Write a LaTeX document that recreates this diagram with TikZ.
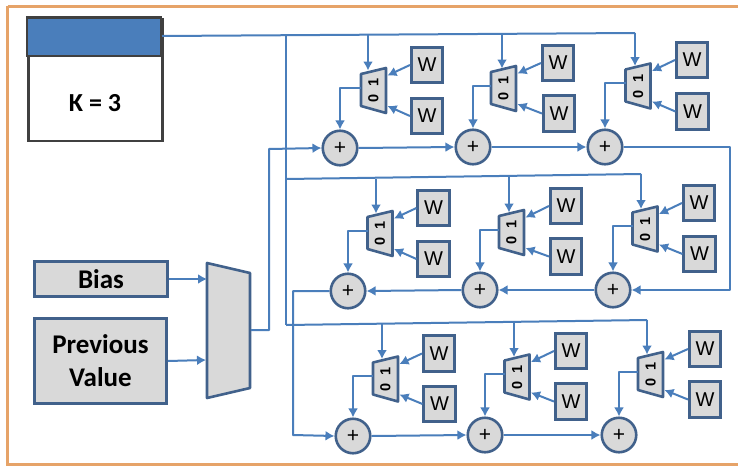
\documentclass[tikz,border=0pt]{standalone}
\usepackage{fontspec}
\setmainfont{Carlito}
\newfontfamily\wfont{Liberation Sans}
\usetikzlibrary{arrows.meta,calc}
\definecolor{wire}{HTML}{4A7EBB}
\definecolor{edge}{HTML}{41618B}
\definecolor{fillg}{HTML}{D9D9D9}
\definecolor{frame}{HTML}{E6A368}
\definecolor{regedge}{HTML}{404040}
\tikzset{
  wirel/.style={draw=wire,line width=2pt,line join=round},
  arr/.style={wirel,-{Latex[length=9pt,width=10pt]}},
  wbox/.style={draw=edge,fill=fillg,line width=2.6pt,minimum width=31.5pt,minimum height=35.5pt,inner sep=0pt,font=\wfont\fontsize{20}{20}\selectfont},
  adder/.style={circle,draw=edge,fill=fillg,line width=2.6pt,minimum size=34.5pt,inner sep=0pt,font=\wfont\fontsize{21}{21}\selectfont},
  muxshape/.style={draw=edge,fill=fillg,line width=2.6pt,line join=round},
  muxtext/.style={rotate=90,inner sep=0pt,text=black,font=\wfont\bfseries\fontsize{14.5}{15}\selectfont},
  graybox/.style={draw=edge,fill=fillg,line width=2.6pt,inner sep=0pt,align=center,font=\bfseries\fontsize{27}{33}\selectfont},
}
% mux: name, centre x, centre y
\newcommand{\muxunit}[3]{%
  \coordinate (#1) at (#2,#3);
  \draw[muxshape] ($(#1)+(-12.5,-16.5)$) -- ($(#1)+(12.5,-22.5)$) -- ($(#1)+(12.5,22.5)$) -- ($(#1)+(-12.5,15.5)$) -- cycle;
  \node[muxtext] (#1txt) at (#1) {0\hspace{8pt}1};
  \coordinate (#1t) at ($(#1)+(-3,-20)$);
  \coordinate (#1l) at ($(#1)+(-12.5,-3)$);
  \coordinate (#1a) at ($(#1)+(14,-15)$);
  \coordinate (#1b) at ($(#1)+(14,15.5)$);
}
\begin{document}
\begin{tikzpicture}[x=1pt,y=-1pt]
\useasboundingbox (0,0) rectangle (738,466);
\fill[white] (0,0) rectangle (738,466);
\draw[frame,line width=3pt] (7.5,6) -- (738,6);
\draw[frame,line width=3pt] (7.5,6) -- (7.5,464) -- (738,464);

% wires under the shapes
\coordinate (src) at (162,36);
\coordinate (j1) at (286,35.5);
\coordinate (j2) at (286,179);
\coordinate (j3) at (286,325);

% register
\node[draw=regedge,fill=white,line width=2.6pt,minimum width=134pt,minimum height=122pt,inner sep=0pt,anchor=north west] (reg) at (27,17.5) {};
\fill[wire] (27,17.5) rectangle (161,56);
\draw[regedge,line width=2.6pt] (27,17.5) rectangle (161,56);
\node[font=\bfseries\fontsize{26}{26}\selectfont] (klabel) at (95,103) {K = 3};

% input boxes
\node[graybox,minimum width=133pt,minimum height=35pt] (bias) at (101,279) {Bias};
\node[graybox,minimum width=132pt,minimum height=85pt] (prev) at (100.5,361) {Previous\\Value};

% big mux
\draw[muxshape] (207,263) -- (250,273) -- (250,388) -- (207,398) -- cycle;
\coordinate (bigin1) at (207,279);
\coordinate (bigin2) at (206,360);
\coordinate (bigout) at (251,330);

% muxes
\muxunit{ma}{373.5}{90.5}
\muxunit{mb}{503.5}{88.5}
\muxunit{mc}{638}{86}
\muxunit{md}{380}{233.5}
\muxunit{me}{511.5}{232.5}
\muxunit{mf}{645}{229}
\muxunit{mg}{385.5}{379}
\muxunit{mh}{517}{377}
\muxunit{mi}{650.5}{374.5}

% W boxes
\foreach \n/\x/\y in {wa/427/65,wb/427/116,wc/558/63,wd/559/113.5,we/692/60,wf/692.5/111.5,
  wg/433.5/208,wh/433.5/259,wi/566/206,wj/566/256.5,wk/699/203,wl/699.5/254,
  wm/439/353.5,wn/439.5/404,wo/571/351,wp/571/401.5,wq/705/349,wr/705/399.5}
  \node[wbox] (\n) at (\x,\y) {W};

% adders
\foreach \n/\x/\y in {pa/340/148,pb/473/147,pc/605/147,pd/348/291,pe/480/290,pf/613/290,pg/353/436,ph/485/435,pi/619/435}
  \node[adder] (\n) at (\x,\y) {+};

% buses
\coordinate (ba) at (635,33);
\draw[wirel] (src) -- (ba);
\draw[wirel] (j1) -- (j3);
\coordinate (bb) at (641,174);
\draw[wirel] (j2) -- (bb);
\coordinate (bc) at (647,320);
\draw[wirel] (j3) -- (bc);

\coordinate (ta1) at (368,35); \coordinate (tb1) at (502,34); \coordinate (tc1) at (635,33);
\coordinate (td1) at (376,178.5); \coordinate (te1) at (509,176); \coordinate (tf1) at (641,174);
\coordinate (tg1) at (382,324); \coordinate (th1) at (514,321.5); \coordinate (ti1) at (647,320);
\foreach \a/\b in {ta1/ma,tb1/mb,tc1/mc,td1/md,te1/me,tf1/mf,tg1/mg,th1/mh,ti1/mi}
  \draw[arr] (\a) -- (\a |- \b t);

% mux to adder
\foreach \m/\p in {ma/pa,mb/pb,mc/pc,md/pd,me/pe,mf/pf,mg/pg,mh/ph,mi/pi}
  \draw[arr] (\m l) -| (\p.north);

% W to mux
\foreach \w/\m/\s in {wa/ma/a,wb/ma/b,wc/mb/a,wd/mb/b,we/mc/a,wf/mc/b,wg/md/a,wh/md/b,wi/me/a,wj/me/b,wk/mf/a,wl/mf/b,wm/mg/a,wn/mg/b,wo/mh/a,wp/mh/b,wq/mi/a,wr/mi/b}
  \draw[arr] (\w.west) -- (\m\s);

% inputs
\draw[arr] (bias.east) -- (bigin1);
\draw[arr] (prev.east) -- (bigin2);
\draw[wirel,-{Latex[length=9pt,width=10pt]}] (bigout) -- (269,330) -- (269,149) -- (pa.west);

% adder chain
\draw[arr] (pa.east) -- (pb.west);
\draw[arr] (pb.east) -- (pc.west);
\draw[arr] (pc.east) -- (730,147) -- (730,290) -- (pf.east);
\draw[arr] (pf.west) -- (pe.east);
\draw[arr] (pe.west) -- (pd.east);
\draw[arr] (pd.west) -- (293,291) -- (293,435) -- (pg.west);
\draw[arr] (pg.east) -- (ph.west);
\draw[arr] (ph.east) -- (pi.west);
\end{tikzpicture}
\end{document}
